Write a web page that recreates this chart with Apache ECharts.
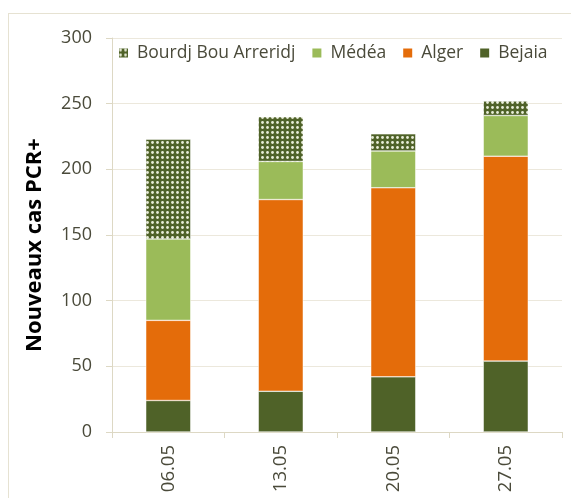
<!DOCTYPE html>
<html>
<head>
<meta charset="utf-8">
<script src="https://cdn.jsdelivr.net/npm/echarts@6/dist/echarts.min.js"></script>
<style>
  html, body { margin: 0; padding: 0; background: #fff; }
  #frame { position: absolute; left: 8px; top: 13px; width: 600px; height: 600px; border: 1px solid #e6e2d2; box-sizing: border-box; }
  #chart { position: absolute; left: 0; top: 0; width: 571px; height: 498px; }
</style>
</head>
<body>
<div id="frame"></div>
<div id="chart"></div>
<script>
const categories = ['06.05', '13.05', '20.05', '27.05']
const bejaia = [24, 31, 42, 54]
const alger = [61, 146, 144, 156]
const medea = [62, 29, 28, 31]
const bourdj = [76, 34, 13, 11]

// dotted pattern for Bourdj Bou Arreridj
const makePattern = () => {
  const c = document.createElement('canvas')
  c.width = 5
  c.height = 5
  const ctx = c.getContext('2d')
  ctx.fillStyle = '#4f6228'
  ctx.fillRect(0, 0, 5, 5)
  ctx.fillStyle = '#e8ecd8'
  ctx.beginPath()
  ctx.arc(2.5, 2.5, 1.4, 0, Math.PI * 2)
  ctx.fill()
  return c
}
const pattern = { image: makePattern(), repeat: 'repeat' }

const chart = echarts.init(document.getElementById('chart'))
const font = 'Open Sans, Liberation Sans, sans-serif'
const textColor = '#4a4a3a'

chart.setOption({
  animation: false,
  legend: {
    left: 112,
    top: 39,
    itemWidth: 11,
    itemHeight: 11,
    itemGap: 15,
    icon: 'rect',
    textStyle: { fontFamily: font, fontSize: 17.5, color: textColor, padding: [0, 0, 0, 3] },
    data: ['Bourdj Bou Arreridj', 'Médéa', 'Alger', 'Bejaia']
  },
  grid: { left: 112, right: 9, top: 38, bottom: 66 },
  xAxis: {
    type: 'category',
    data: categories,
    axisLine: { lineStyle: { color: '#ddd8c4' } },
    axisTick: { show: true, length: 6, lineStyle: { color: '#ddd8c4' } },
    axisLabel: { rotate: 90, margin: 13, fontFamily: font, fontSize: 18.5, color: textColor }
  },
  yAxis: {
    type: 'value',
    min: 0,
    max: 300,
    interval: 50,
    name: 'Nouveaux cas PCR+',
    nameLocation: 'middle',
    nameGap: 66,
    nameTextStyle: { fontFamily: font, fontSize: 22, fontWeight: 'bold', color: '#000', padding: [0, 20, 0, 0] },
    axisLine: { show: true, lineStyle: { color: '#ddd8c4' } },
    axisTick: { show: true, length: 6, lineStyle: { color: '#ddd8c4' } },
    axisLabel: { margin: 20, fontFamily: font, fontSize: 18, color: textColor },
    splitLine: { lineStyle: { color: '#ece8dc' } }
  },
  series: [
    { name: 'Bejaia', type: 'bar', stack: 'a', barWidth: '40%', data: bejaia,
      itemStyle: { color: '#4f6228', borderColor: '#fff', borderWidth: 0.5 } },
    { name: 'Alger', type: 'bar', stack: 'a', data: alger,
      itemStyle: { color: '#e46c0a', borderColor: '#fff', borderWidth: 0.5 } },
    { name: 'Médéa', type: 'bar', stack: 'a', data: medea,
      itemStyle: { color: '#9bbb59', borderColor: '#fff', borderWidth: 0.5 } },
    { name: 'Bourdj Bou Arreridj', type: 'bar', stack: 'a', data: bourdj,
      itemStyle: { color: pattern, borderColor: '#fff', borderWidth: 0.5 } }
  ]
})
</script>
</body>
</html>
